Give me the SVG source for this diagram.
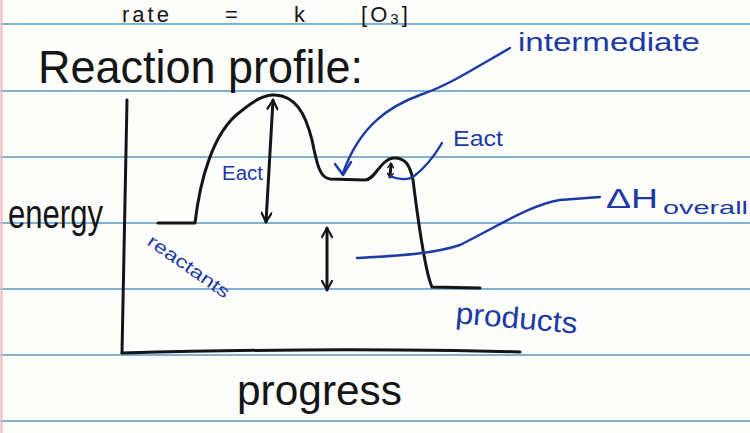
<svg xmlns="http://www.w3.org/2000/svg" width="750" height="433" viewBox="0 0 750 433">
<style>
.rule{stroke:#7fb0d6;stroke-width:2;fill:none}
.ink{stroke:#151515;stroke-width:3;fill:none;stroke-linecap:round;stroke-linejoin:round}
.blue{stroke:#1c3aa6;stroke-width:2.4;fill:none;stroke-linecap:round;stroke-linejoin:round}
.tk{font-family:"Liberation Sans",Arial,sans-serif;fill:#151515}
.tb{font-family:"Liberation Sans",Arial,sans-serif;fill:#1c3aa6}
</style>
<defs>
<marker id="ah" viewBox="0 0 12 12" refX="11" refY="6" markerWidth="12" markerHeight="12" markerUnits="userSpaceOnUse" orient="auto-start-reverse">
<path d="M2,1 L11,6 L2,11" fill="none" stroke="#151515" stroke-width="2.2" stroke-linecap="round" stroke-linejoin="round"/>
</marker>
<marker id="ahs" viewBox="0 0 12 12" refX="10" refY="6" markerWidth="7" markerHeight="7" markerUnits="userSpaceOnUse" orient="auto-start-reverse">
<path d="M4,1 L10,6 L4,11" fill="none" stroke="#151515" stroke-width="2.5" stroke-linecap="round"/>
</marker>
</defs>
<rect width="750" height="433" fill="#fdfdfb"/>
<g id="paper">
<line class="rule" x1="0" y1="24" x2="750" y2="24"/>
<line class="rule" x1="0" y1="91" x2="750" y2="91"/>
<line class="rule" x1="0" y1="157" x2="750" y2="157"/>
<line class="rule" x1="0" y1="223" x2="750" y2="223"/>
<line class="rule" x1="0" y1="289" x2="750" y2="289"/>
<line class="rule" x1="0" y1="355" x2="750" y2="355"/>
<line class="rule" x1="0" y1="421" x2="750" y2="421"/>
<line x1="1.5" y1="0" x2="1.5" y2="433" stroke="#f2b8c0" stroke-width="2"/>
</g>
<g id="titles">
<text class="tk" x="122" y="22" font-size="22" word-spacing="44" letter-spacing="3">rate = k [O<tspan font-size="15" dy="2">3</tspan><tspan dy="-2">]</tspan></text>
<text class="tk" x="38" y="83" font-size="46" textLength="325" lengthAdjust="spacingAndGlyphs">Reaction profile:</text>
</g>
<g id="axes">
<path class="ink" d="M127,100 L122,353"/>
<path class="ink" d="M122,353 C200,351 300,349 400,350 C450,350 490,351 520,352"/>
<text id="energy" class="tk" x="8" y="228" font-size="40" textLength="95" lengthAdjust="spacingAndGlyphs">energy</text>
<text id="progress" class="tk" x="237" y="405" font-size="42" textLength="165" lengthAdjust="spacingAndGlyphs">progress</text>
</g>
<g id="curve">
<path class="ink" d="M158,223 L195,223 C200,180 213,132 240,112 C255,100 265,94 275,95 C295,96 305,112 312,140 C317,165 320,178 330,179 L365,180 C375,180 380,160 393,158 C405,157 410,165 413,180 C418,220 425,272 432,287 L480,288"/>
</g>
<g id="connectors">
<path class="ink" d="M273,100 L266,222" marker-start="url(#ah)" marker-end="url(#ah)"/>
<path class="ink" d="M327,228 L327,290" marker-start="url(#ah)" marker-end="url(#ah)"/>
<path class="ink" stroke-width="2.2" d="M391,164 L390,177" marker-start="url(#ahs)" marker-end="url(#ahs)"/>
<path class="blue" d="M510,48 C480,65 450,85 420,95 C390,106 360,125 343,173"/>
<path class="blue" d="M335,164 L343,175 L351,162"/>
<path class="blue" d="M390,176 C398,180 408,180 413,177 C425,168 435,155 442,143"/>
<path class="blue" d="M357,258 C390,256 430,255 460,245 C500,225 530,205 560,200 L600,197"/>
</g>
<g id="labels">
<text class="tb" x="518" y="51" font-size="26" textLength="182" lengthAdjust="spacingAndGlyphs">intermediate</text>
<text class="tb" x="222" y="180" font-size="20" textLength="41" lengthAdjust="spacingAndGlyphs">Eact</text>
<text class="tb" x="453" y="146" font-size="22" textLength="50" lengthAdjust="spacingAndGlyphs">Eact</text>
<text class="tb" x="606" y="208" font-size="28" textLength="52" lengthAdjust="spacingAndGlyphs">ΔH</text>
<text class="tb" x="663" y="214" font-size="18" textLength="85" lengthAdjust="spacingAndGlyphs">overall</text>
<text class="tb" x="0" y="0" font-size="18" textLength="96" lengthAdjust="spacingAndGlyphs" transform="translate(146,244) rotate(35)">reactants</text>
<text class="tb" x="0" y="0" font-size="30" textLength="122" lengthAdjust="spacingAndGlyphs" transform="translate(455,323) rotate(5)">products</text>
</g>
</svg>
